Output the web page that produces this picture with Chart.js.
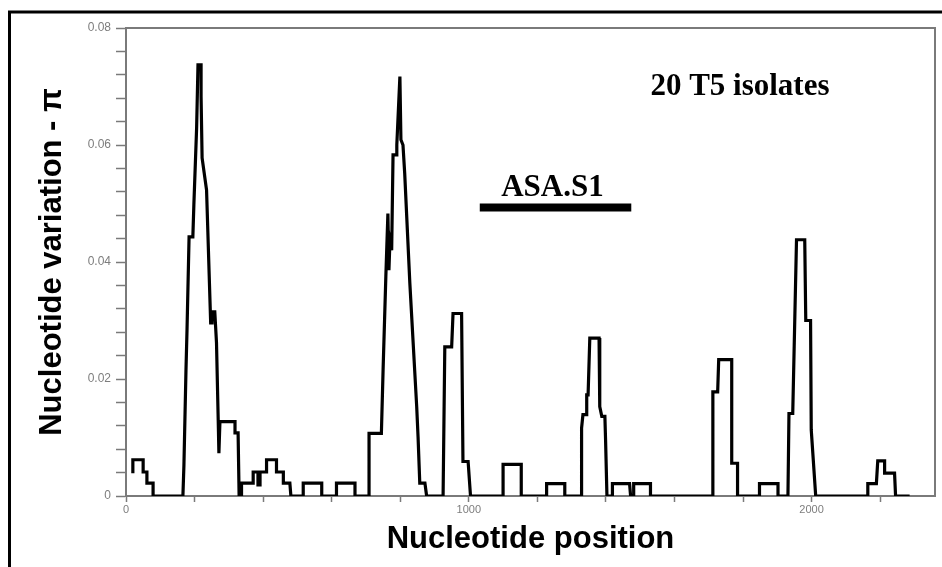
<!DOCTYPE html>
<html>
<head>
<meta charset="utf-8">
<script src="https://cdn.jsdelivr.net/npm/chart.js@4.4.1/dist/chart.umd.min.js"></script>
<style>
html,body{margin:0;padding:0;background:#fff;}
canvas{display:block;}
</style>
</head>
<body>
<canvas id="c" width="942" height="567"></canvas>
<script>
// Nucleotide position (sliding window) and nucleotide diversity (pi)
const positions = [20,20,50,50,61,61,79,79,166,169,175,178,184,195,198,206,210,219,219,222,235,247,251,251,259,264,269,271,274,318,318,327,330,337,337,371,371,385,385,391,391,410,410,439,439,459,459,478,481,517,517,571,571,614,614,668,668,709,709,745,750,758,764,767,770,775,779,789,790,799,802,808,813,828,848,852,857,872,877,925,930,950,954,979,983,998,1005,1100,1100,1153,1153,1227,1227,1280,1280,1329,1329,1333,1343,1344,1348,1353,1380,1382,1388,1397,1399,1403,1419,1419,1469,1472,1481,1481,1530,1530,1712,1712,1726,1729,1767,1767,1784,1784,1848,1848,1902,1902,1931,1934,1945,1956,1980,1983,1997,1999,2012,2164,2164,2189,2193,2213,2213,2242,2245,2286];
const piValues = [0.0039,0.0062,0.0062,0.0041,0.0041,0.0022,0.0022,0,0,0.0053,0.0216,0.0284,0.0443,0.0443,0.0498,0.0629,0.0737,0.0737,0.0683,0.0578,0.0523,0.0296,0.0296,0.0315,0.0315,0.0262,0.0130,0.0073,0.0127,0.0127,0.0108,0.0108,0,0,0.0022,0.0022,0.0041,0.0041,0.0019,0.0019,0.0041,0.0041,0.0062,0.0062,0.0041,0.0041,0.0022,0.0022,0,0,0.0022,0.0022,0,0,0.0022,0.0022,0,0,0.0107,0.0107,0.0216,0.0375,0.0483,0.0386,0.0437,0.0420,0.0583,0.0583,0.0600,0.0717,0.0609,0.0600,0.0552,0.0364,0.0153,0.0101,0.0022,0.0022,0,0,0.0255,0.0255,0.0312,0.0312,0.0059,0.0059,0,0,0.0054,0.0054,0,0,0.0021,0.0021,0,0,0.0116,0.0139,0.0139,0.0173,0.0173,0.0270,0.0270,0.0153,0.0136,0.0136,0.0096,0,0,0.0021,0.0021,0,0,0.0021,0.0021,0,0,0.0178,0.0178,0.0233,0.0233,0.0056,0.0056,0,0,0.0021,0.0021,0,0,0.0141,0.0141,0.0438,0.0438,0.0300,0.0300,0.0113,0,0,0.0021,0.0021,0.0060,0.0060,0.0039,0.0039,0,0];

// ASA.S1 region marker (nucleotide range, drawn at a pi level)
const regionRange = [1032, 1474];
const regionLevel = [0.0493, 0.0493];

// Tick positions and labels
const xTickValues = [0,200,400,600,800,1000,1200,1400,1600,1800,2000,2200];
const xTickLabels = ['0', '1000', '2000'];
const yTickLabels = ['0', '0.02', '0.04', '0.06', '0.08'];

// Text annotations (data coordinates)
const noteTexts = ['20 T5 isolates', 'ASA.S1'];
const noteX = [1791, 1244];
const noteY = [0.0685, 0.0513];

const SANS = '"Liberation Sans", Arial, Helvetica, sans-serif';
const SERIF = '"Liberation Serif", "Times New Roman", serif';

const framePlugin = {
  id: 'frame',
  beforeDraw(chart) {
    const ctx = chart.ctx;
    ctx.save();
    ctx.fillStyle = '#fff';
    ctx.fillRect(0, 0, chart.width, chart.height);
    ctx.restore();
  },
  afterDraw(chart) {
    const {ctx, chartArea: a, scales} = chart;
    ctx.save();
    ctx.strokeStyle = '#7a7a7a';
    ctx.lineWidth = 2;
    ctx.beginPath();
    ctx.moveTo(a.left, a.top);
    ctx.lineTo(a.right, a.top);
    ctx.lineTo(a.right, a.bottom);
    ctx.stroke();

    ctx.strokeStyle = '#000';
    ctx.lineWidth = 3;
    ctx.beginPath();
    ctx.moveTo(chart.width, 12);
    ctx.lineTo(9.5, 12);
    ctx.lineTo(9.5, chart.height);
    ctx.stroke();

    ctx.fillStyle = '#000';
    ctx.font = 'bold 31px ' + SERIF;
    ctx.textAlign = 'center';
    ctx.textBaseline = 'alphabetic';
    noteTexts.forEach((t, i) => {
      ctx.fillText(t, scales.x.getPixelForValue(noteX[i]), scales.y.getPixelForValue(noteY[i]));
    });
    ctx.restore();
  }
};

new Chart(document.getElementById('c'), {
  type: 'line',
  data: {
    datasets: [
      {
        data: positions.map((p, i) => ({x: p, y: piValues[i]})),
        borderColor: '#000',
        borderWidth: 3.2,
        pointRadius: 0,
        tension: 0,
        fill: false,
        borderJoinStyle: 'miter'
      },
      {
        data: regionRange.map((p, i) => ({x: p, y: regionLevel[i]})),
        borderColor: '#000',
        borderWidth: 8,
        pointRadius: 0,
        fill: false,
        borderCapStyle: 'butt'
      }
    ]
  },
  options: {
    responsive: false,
    animation: false,
    devicePixelRatio: 1,
    layout: {padding: {left: 0, top: 28, right: 7, bottom: 0}},
    plugins: {legend: {display: false}, tooltip: {enabled: false}},
    scales: {
      x: {
        type: 'linear',
        min: 0,
        max: 2360,
        afterFit(s) { s.height = 71; },
        afterBuildTicks(s) { s.ticks = xTickValues.map(v => ({value: v})); },
        border: {display: true, color: '#7a7a7a', width: 2},
        grid: {drawOnChartArea: false, drawTicks: true, tickLength: 6, color: '#7a7a7a', tickWidth: 1.5},
        ticks: {
          autoSkip: false,
          maxRotation: 0,
          color: '#7d7d7d',
          padding: 1,
          font: {family: SANS, size: 11},
          callback(v) { const s = String(Math.round(v)); return xTickLabels.includes(s) ? s : ''; }
        },
        title: {
          display: true,
          text: 'Nucleotide position',
          color: '#000',
          font: {family: SANS, size: 31, weight: 'bold'},
          padding: {top: 0, bottom: 9}
        }
      },
      y: {
        type: 'linear',
        min: 0,
        max: 0.08,
        afterFit(s) { s.width = 126; },
        border: {display: true, color: '#7a7a7a', width: 2},
        grid: {drawOnChartArea: false, drawTicks: true, tickLength: 10, color: '#7a7a7a', tickWidth: 1.5},
        ticks: {
          stepSize: 0.004,
          autoSkip: false,
          color: '#7d7d7d',
          padding: 5,
          font: {family: SANS, size: 12},
          callback(v) { const s = String(Number(v.toFixed(3))); return yTickLabels.includes(s) ? s : ''; }
        },
        title: {
          display: true,
          text: 'Nucleotide variation - π',
          color: '#000',
          font: {family: SANS, size: 31, weight: 'bold'},
          padding: {top: 34, bottom: 0}
        }
      }
    }
  },
  plugins: [framePlugin]
});
</script>
</body>
</html>
